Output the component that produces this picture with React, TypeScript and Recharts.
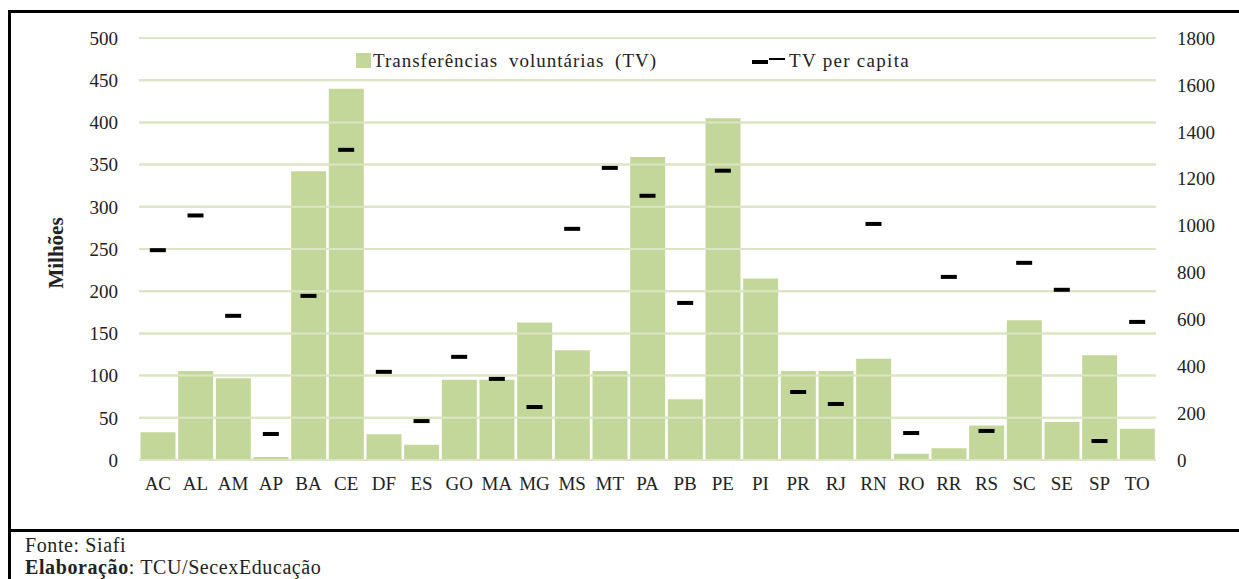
import {
  ComposedChart,
  Bar,
  Line,
  XAxis,
  YAxis,
  CartesianGrid,
  Legend,
  Label,
  ReferenceLine,
} from "recharts";

const states = [
  "AC", "AL", "AM", "AP", "BA", "CE", "DF", "ES", "GO", "MA", "MG", "MS", "MT", "PA",
  "PB", "PE", "PI", "PR", "RJ", "RN", "RO", "RR", "RS", "SC", "SE", "SP", "TO",
];

// Transferências voluntárias, em milhões
const transfers = [
  33, 105.5, 97, 3.6, 342, 440, 30.5, 18, 95, 95, 163, 130, 105.5, 359,
  72, 405, 215, 105.5, 105.5, 120, 7.5, 14, 41, 165.5, 45, 124, 37,
];

// TV per capita (PI fica acima da escala, não aparece)
const perCapita: (number | null)[] = [
  895, 1043, 615, 111, 700, 1323, 376, 166, 440, 346, 226, 986, 1246, 1127,
  670, 1234, null, 290, 239, 1007, 115, 781, 124, 841, 726, 81, 589,
];

const leftTicks = [0, 50, 100, 150, 200, 250, 300, 350, 400, 450, 500];
const rightTicks = [0, 200, 400, 600, 800, 1000, 1200, 1400, 1600, 1800];

const data = states.map((uf, i) => ({
  uf,
  tv: transfers[i],
  pc: perCapita[i],
}));

const BAR = "#c4d79b";
const GRID = "#d9e5c1";
const FONT = '"Liberation Serif", "DejaVu Serif", serif';
const TEXT = "#222";

const tickStyle = { fontFamily: FONT, fontSize: 19, fill: TEXT };

const Dash = (props: any) => {
  const { cx, cy, index } = props;
  if (cx == null || cy == null || props.value == null) return <g key={`d-${index}`} />;
  return <rect key={`d-${index}`} x={cx - 8} y={cy - 2} width={16} height={4} fill="#000" />;
};

const renderLegend = () => (
  <div style={{ position: "relative", width: 570, height: 24, fontFamily: FONT, fontSize: 19, color: TEXT }}>
    <span style={{ position: "absolute", left: 0, top: 3, width: 15, height: 15, background: BAR }} />
    <span style={{ position: "absolute", left: 17, top: 0, whiteSpace: "nowrap", letterSpacing: 1, wordSpacing: 5, lineHeight: "22px" }}>
      Transferências voluntárias (TV)
    </span>
    <svg style={{ position: "absolute", left: 396, top: 0 }} width={34} height={20}>
      <rect x={0} y={10} width={16} height={4} fill="#000" />
      <rect x={17} y={8} width={16} height={2} fill="#000" />
    </svg>
    <span style={{ position: "absolute", left: 433, top: 0, whiteSpace: "nowrap", letterSpacing: 1.3, lineHeight: "22px" }}>
      TV per capita
    </span>
  </div>
);

const footStyle = {
  position: "absolute" as const,
  left: 25,
  fontFamily: FONT,
  fontSize: 20,
  lineHeight: "20px",
  color: TEXT,
  letterSpacing: 0.6,
  whiteSpace: "nowrap" as const,
};

export default function App() {
  return (
    <div style={{ position: "absolute", left: 0, top: 0, width: 1239, height: 579, background: "#fff", overflow: "hidden" }}>
      <div style={{ position: "absolute", left: 8, top: 10, width: 3, height: 569, background: "#000" }} />
      <div style={{ position: "absolute", left: 8, top: 10, width: 1231, height: 3, background: "#000" }} />
      <div style={{ position: "absolute", left: 8, top: 529, width: 1231, height: 3, background: "#000" }} />

      <div style={{ position: "absolute", left: 0, top: 0 }}>
        <ComposedChart
          width={1239}
          height={530}
          data={data}
          margin={{ top: 38, right: 0, bottom: 40, left: 0 }}
          barCategoryGap={1.5}
        >
          <XAxis
            dataKey="uf"
            axisLine={false}
            tickLine={false}
            tickMargin={11}
            interval={0}
            tick={tickStyle}
            height={30}
          />
          <YAxis
            yAxisId="left"
            domain={[0, 500]}
            ticks={leftTicks}
            axisLine={false}
            tickLine={false}
            tickMargin={15}
            width={139}
            tick={tickStyle}
          >
            <Label
              content={(p: any) => {
                const vb = p.viewBox || { x: 0, y: 38, height: 422 };
                const cy = vb.y + vb.height / 2 + 4;
                return (
                  <text
                    x={56}
                    y={cy}
                    transform={`rotate(-90 56 ${cy})`}
                    textAnchor="middle"
                    dominantBaseline="central"
                    style={{ fontFamily: FONT, fontSize: 21, fontWeight: 700, fill: TEXT }}
                  >
                    Milhões
                  </text>
                );
              }}
            />
          </YAxis>
          <YAxis
            yAxisId="right"
            orientation="right"
            domain={[0, 1800]}
            ticks={rightTicks}
            axisLine={false}
            tickLine={false}
            tickMargin={15}
            width={83}
            tick={tickStyle}
          />
          <CartesianGrid yAxisId="left" vertical={false} stroke={GRID} strokeWidth={2} />
          <Bar yAxisId="left" dataKey="tv" name="Transferências voluntárias (TV)" fill={BAR} isAnimationActive={false} />
          {leftTicks.map((t) => (
            <ReferenceLine key={t} yAxisId="left" y={t} stroke="#dbe6c4" strokeWidth={2} />
          ))}
          <Line
            yAxisId="right"
            dataKey="pc"
            name="TV per capita"
            stroke="none"
            dot={Dash}
            activeDot={false}
            isAnimationActive={false}
          />
          <Legend
            verticalAlign="middle"
            align="center"
            layout="horizontal"
            content={renderLegend}
            wrapperStyle={{ position: "absolute", left: 356, top: 50, width: 570, height: 24 }}
          />
        </ComposedChart>
      </div>

      <div style={{ ...footStyle, top: 535 }}>Fonte: Siafi</div>
      <div style={{ ...footStyle, top: 557 }}>
        <b>Elaboração</b>: TCU/SecexEducação
      </div>
    </div>
  );
}
